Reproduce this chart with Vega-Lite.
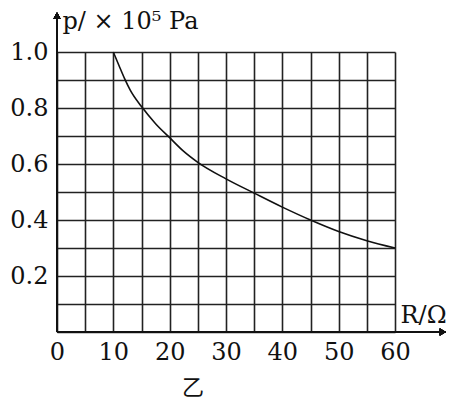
{
  "$schema": "https://vega.github.io/schema/vega-lite/v6.json",
  "width": 338,
  "height": 280,
  "autosize": "none",
  "padding": {"left": 57, "top": 52, "right": 65, "bottom": 72},
  "background": "white",
  "title": {"text": "乙", "orient": "bottom", "anchor": "middle", "dx": -33, "offset": 14, "font": "Noto Sans CJK SC", "fontSize": 22, "fontWeight": "normal", "color": "#111"},
  "config": {
    "view": {"stroke": null},
    "axis": {"labelFont": "DejaVu Serif", "labelFontSize": 24, "labelColor": "#111", "titleFont": "DejaVu Serif", "titleFontSize": 24, "titleFontWeight": "normal", "titleColor": "#111", "gridColor": "#222", "gridWidth": 1.6, "gridOpacity": 1, "ticks": false, "domain": false}
  },
  "data": {"values": [
    {"R": 10, "p": 1.0},
    {"R": 11, "p": 0.952},
    {"R": 12, "p": 0.905},
    {"R": 13, "p": 0.864},
    {"R": 15, "p": 0.805},
    {"R": 17.5, "p": 0.744},
    {"R": 20, "p": 0.694},
    {"R": 22.5, "p": 0.645},
    {"R": 25, "p": 0.606},
    {"R": 30, "p": 0.547},
    {"R": 35, "p": 0.496},
    {"R": 40, "p": 0.446},
    {"R": 45, "p": 0.4},
    {"R": 50, "p": 0.359},
    {"R": 55, "p": 0.326},
    {"R": 60, "p": 0.3}
  ]},
  "encoding": {
    "x": {"type": "quantitative", "scale": {"domain": [0, 60], "nice": false},
      "axis": {"values": [0,5,10,15,20,25,30,35,40,45,50,55,60], "labelExpr": "datum.value % 10 == 0 ? datum.value : ''", "labelPadding": 8, "labelFlush": false, "title": "R/Ω", "titleAlign": "left", "titleBaseline": "alphabetic", "titleX": 343, "titleY": -10, "titleAngle": 0}},
    "y": {"type": "quantitative", "scale": {"domain": [0, 1], "nice": false},
      "axis": {"values": [0,0.1,0.2,0.3,0.4,0.5,0.6,0.7,0.8,0.9,1.0], "labelExpr": "round(datum.value*10) % 2 == 0 && datum.value > 0 ? format(datum.value, '.1f') : ''", "labelPadding": 9, "labelFlush": false, "title": "p/ × 10⁵ Pa", "titleAngle": 0, "titleAlign": "left", "titleBaseline": "alphabetic", "titleX": 5, "titleY": -24}}
  },
  "layer": [
    {
      "mark": {"type": "line", "interpolate": "monotone", "color": "#111", "strokeWidth": 1.6},
      "encoding": {"x": {"field": "R"}, "y": {"field": "p"}}
    },
    {
      "mark": {"type": "rule", "color": "#111", "strokeWidth": 2},
      "encoding": {"x": {"datum": 0}, "y": {"datum": 0}, "y2": {"datum": 1.12}}
    },
    {
      "mark": {"type": "rule", "color": "#111", "strokeWidth": 2},
      "encoding": {"x": {"datum": 0}, "x2": {"datum": 68}, "y": {"datum": 0}}
    },
    {
      "mark": {"type": "point", "shape": "triangle-up", "filled": true, "color": "#111", "size": 50, "opacity": 1},
      "encoding": {"x": {"datum": 0}, "y": {"datum": 1.13}}
    },
    {
      "mark": {"type": "point", "shape": "triangle-right", "filled": true, "color": "#111", "size": 50, "opacity": 1},
      "encoding": {"x": {"datum": 68.5}, "y": {"datum": 0}}
    }
  ]
}
